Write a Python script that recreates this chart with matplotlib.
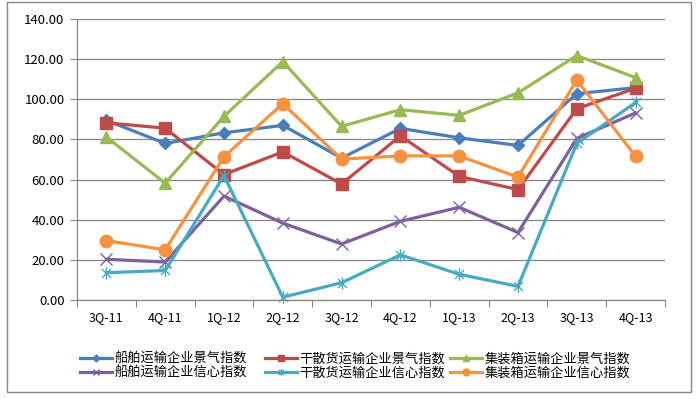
import matplotlib
matplotlib.use("Agg")
import matplotlib.pyplot as plt
from matplotlib.path import Path
from matplotlib.patches import Rectangle

plt.rcParams['font.family'] = ['Noto Sans CJK SC', 'DejaVu Sans']

# data
quarters = ["3Q-11", "4Q-11", "1Q-12", "2Q-12", "3Q-12",
            "4Q-12", "1Q-13", "2Q-13", "3Q-13", "4Q-13"]

ship_boom = [89.5, 78.0, 83.3, 87.0, 70.7, 85.5, 80.8, 77.0, 102.8, 105.8]
bulk_boom = [88.3, 85.6, 62.5, 73.8, 57.8, 81.8, 61.6, 55.0, 95.3, 105.5]
box_boom = [81.2, 58.2, 91.5, 118.8, 86.5, 94.8, 92.0, 103.2, 121.8, 110.8]
ship_conf = [20.3, 18.9, 51.8, 38.3, 27.9, 39.2, 46.2, 33.6, 80.5, 93.2]
bulk_conf = [13.6, 14.7, 62.0, 1.4, 8.6, 22.5, 12.8, 6.8, 78.0, 98.4]
box_conf = [29.6, 25.0, 71.4, 97.8, 70.2, 71.8, 71.8, 61.2, 109.6, 71.6]

names = ["船舶运输企业景气指数", "干散货运输企业景气指数", "集装箱运输企业景气指数",
         "船舶运输企业信心指数", "干散货运输企业信心指数", "集装箱运输企业信心指数"]

# asterisk marker: x plus vertical bar
star = Path([(-1, -1), (1, 1), (-1, 1), (1, -1), (0, -1.4), (0, 1.4)],
            [Path.MOVETO, Path.LINETO, Path.MOVETO, Path.LINETO, Path.MOVETO, Path.LINETO])

series = [
    (ship_boom, "#4A7EBB", "D", 6.5),
    (bulk_boom, "#BE4B48", "s", 8.5),
    (box_boom, "#98B954", "^", 9),
    (ship_conf, "#7D60A0", "x", 8),
    (bulk_conf, "#46AAC5", star, 9),
    (box_conf, "#F69240", "o", 9),
]

fig = plt.figure(figsize=(6.98, 3.99), dpi=100)
ax = fig.add_axes([77 / 698, 1 - 300 / 399, 588 / 698, 281 / 399])

x = list(range(len(quarters)))
lines = []
for (vals, col, mk, ms), name in zip(series, names):
    ln, = ax.plot(x, vals, color=col, lw=2.3, marker=mk, ms=ms,
                  mec=col, mfc=col, mew=1, label=name, clip_on=False)
    lines.append(ln)

ax.set_xlim(-0.5, 9.5)
ax.set_ylim(0, 140)
ax.set_yticks(range(0, 141, 20))
ax.set_yticklabels(["%.2f" % v for v in range(0, 141, 20)])
ax.set_xticks(x)
ax.set_xticklabels(quarters)
ax.set_xticks([i - 0.5 for i in range(11)], minor=True)
ax.tick_params(axis="x", which="major", length=0, labelsize=9, pad=8)
ax.tick_params(axis="x", which="minor", length=5, color="#868686", width=0.8)
ax.tick_params(axis="y", length=5, color="#868686", width=0.8, labelsize=9.5, pad=4)
ax.grid(axis="y", color="#868686", lw=0.9)
ax.set_axisbelow(True)
for s in ["top", "right"]:
    ax.spines[s].set_visible(False)
for s in ["left", "bottom"]:
    ax.spines[s].set_color("#868686")
    ax.spines[s].set_linewidth(0.9)

# legend: three equal-width columns like Excel
col_x = [80, 265, 450]
for c in range(3):
    idx = [c, c + 3]
    fig.legend([lines[i] for i in idx], [names[i] for i in idx],
               loc="center left", bbox_to_anchor=(col_x[c] / 698, 1 - 366 / 399),
               ncol=1, frameon=False, fontsize=9.5, handlelength=2.4,
               handletextpad=0.2, labelspacing=0.05, markerscale=0.55,
               borderpad=0, borderaxespad=0)

fig.patches.append(Rectangle((7 / 698, 1 - 392 / 399), 684 / 698, 390 / 399,
                             transform=fig.transFigure, fill=False,
                             edgecolor="#868686", lw=1))

fig.savefig("out.png", dpi=100)
